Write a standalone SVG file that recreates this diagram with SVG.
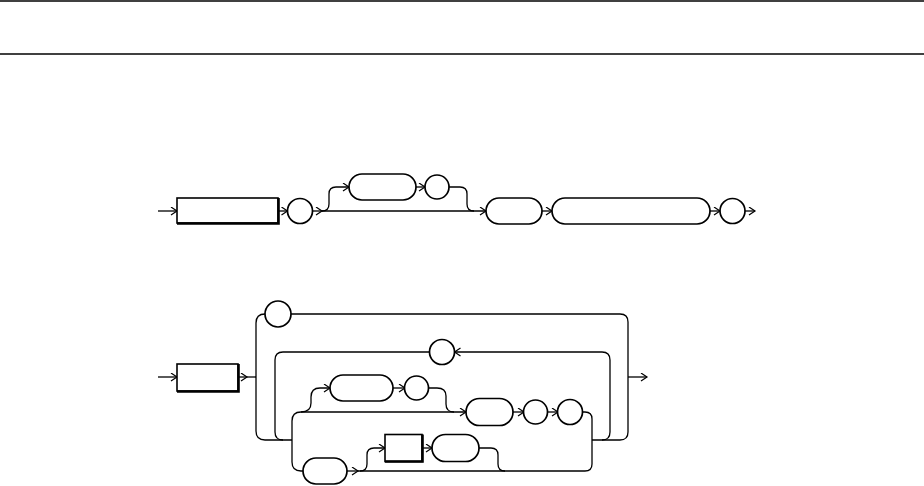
<svg xmlns="http://www.w3.org/2000/svg" width="924" height="486" viewBox="0 0 924 486">
<style>
.ln{fill:none;stroke:#000;stroke-width:1.3}
.arr{fill:none;stroke:#000;stroke-width:1.3;marker-end:url(#ah)}
.nt{fill:#fff;stroke:#000;stroke-width:1.6}
.sh{fill:none;stroke:#000;stroke-width:2.6}
.tm{fill:#fff;stroke:#000;stroke-width:1.7}
</style>
<defs>
<marker id="ah" markerUnits="userSpaceOnUse" markerWidth="10" markerHeight="10" refX="7" refY="4.5" orient="auto">
<path d="M1,0.5 L7,4.5 L1,8.5" fill="none" stroke="#000" stroke-width="1.2"/>
</marker>
</defs>
<rect width="924" height="486" fill="#fff"/>
<line x1="0" y1="1" x2="924" y2="1" class="ln"/>
<line x1="0" y1="54" x2="924" y2="54" class="ln"/>

<g id="connectors">
<!-- diagram 1 -->
<path class="arr" d="M158,211 H177"/>
<path class="arr" d="M278,211 H287.5"/>
<path class="arr" d="M312.5,211 H322"/>
<path class="arr" d="M322,211 H486"/>
<path class="arr" d="M322,211 Q329,211 329,204 V194 Q329,187 336,187 H349"/>
<path class="arr" d="M416,187 H425"/>
<path class="ln" d="M449,187 H460 Q467,187 467,194 V204 Q467,211 474,211"/>
<path class="arr" d="M542,211 H552"/>
<path class="arr" d="M710,211 H720"/>
<path class="arr" d="M745,211 H755"/>
<!-- diagram 2 -->
<path class="arr" d="M158,377 H177"/>
<path class="arr" d="M238,377 H247"/>
<path class="ln" d="M247,377 H256"/>
<path class="ln" d="M265,314 Q256,314 256,323 V431 Q256,440 265,440 H292"/>
<path class="ln" d="M291,314 H620 Q628,314 628,322 V432 Q628,440 620,440 H592"/>
<path class="arr" d="M628,377 H647"/>
<path class="arr" d="M610,432 V360 Q610,352 602,352 H454.5"/>
<path class="ln" d="M610,432 Q610,440 602,440"/>
<path class="ln" d="M429.5,352 H283 Q275,352 275,360 V432 Q275,440 283,440"/>
<path class="arr" d="M292,440 V421 Q292,412 301,412 H466"/>
<path class="arr" d="M301,412 Q311,412 311,403 V397 Q311,388 320,388 H330"/>
<path class="arr" d="M393,388 H405"/>
<path class="ln" d="M428.5,388 H437 Q446,388 446,396 V404 Q446,412 454,412"/>
<path class="arr" d="M513,412 H524"/>
<path class="arr" d="M547,412 H558"/>
<path class="ln" d="M582.5,412 H585 Q592,412 592,419 V464 Q592,471 585,471 H358"/>
<path class="ln" d="M292,440 V462 Q292,471 301,471 H303"/>
<path class="arr" d="M347,471 H358"/>
<path class="arr" d="M360,471 Q367,471 367,464 V455 Q367,448 374,448 H385"/>
<path class="arr" d="M422,448 H432"/>
<path class="ln" d="M479,448 H491 Q498,448 498,455 V464 Q498,471 505,471"/>
</g>

<g id="d1_box"><rect class="nt" x="177" y="198" width="101" height="25"/><path class="sh" d="M177,223.5 H278.5 V198"/></g>
<g id="d1_c1"><circle class="tm" cx="300" cy="211" r="12.5"/></g>
<g id="d1_opt1"><rect class="tm" x="349" y="174" width="67" height="26" rx="13"/></g>
<g id="d1_opt2"><circle class="tm" cx="437" cy="187" r="12"/></g>
<g id="d1_r1"><rect class="tm" x="486" y="198" width="56" height="26" rx="13"/></g>
<g id="d1_r2"><rect class="tm" x="552" y="198" width="158" height="26" rx="13"/></g>
<g id="d1_c2"><circle class="tm" cx="732.5" cy="211" r="12.5"/></g>

<g id="d2_box"><rect class="nt" x="177" y="364" width="61" height="27"/><path class="sh" d="M177,391.5 H238.5 V364"/></g>
<g id="d2_top"><circle class="tm" cx="278" cy="314" r="13"/></g>
<g id="d2_loop"><circle class="tm" cx="442" cy="352" r="12.5"/></g>
<g id="d2_u1"><rect class="tm" x="330" y="375" width="63" height="26" rx="13"/></g>
<g id="d2_u2"><circle class="tm" cx="416.5" cy="388" r="12"/></g>
<g id="d2_m1"><rect class="tm" x="466" y="398.5" width="47" height="27" rx="13.5"/></g>
<g id="d2_m2"><circle class="tm" cx="535.5" cy="412" r="12"/></g>
<g id="d2_m3"><circle class="tm" cx="570" cy="412" r="12.5"/></g>
<g id="d2_b1"><rect class="tm" x="303" y="458" width="44" height="26" rx="13"/></g>
<g id="d2_b2"><rect class="nt" x="385" y="434.5" width="37" height="27"/><path class="sh" d="M385,461.5 H422.5 V434.5"/></g>
<g id="d2_b3"><rect class="tm" x="432" y="434.5" width="47" height="27" rx="13.5"/></g>
</svg>
